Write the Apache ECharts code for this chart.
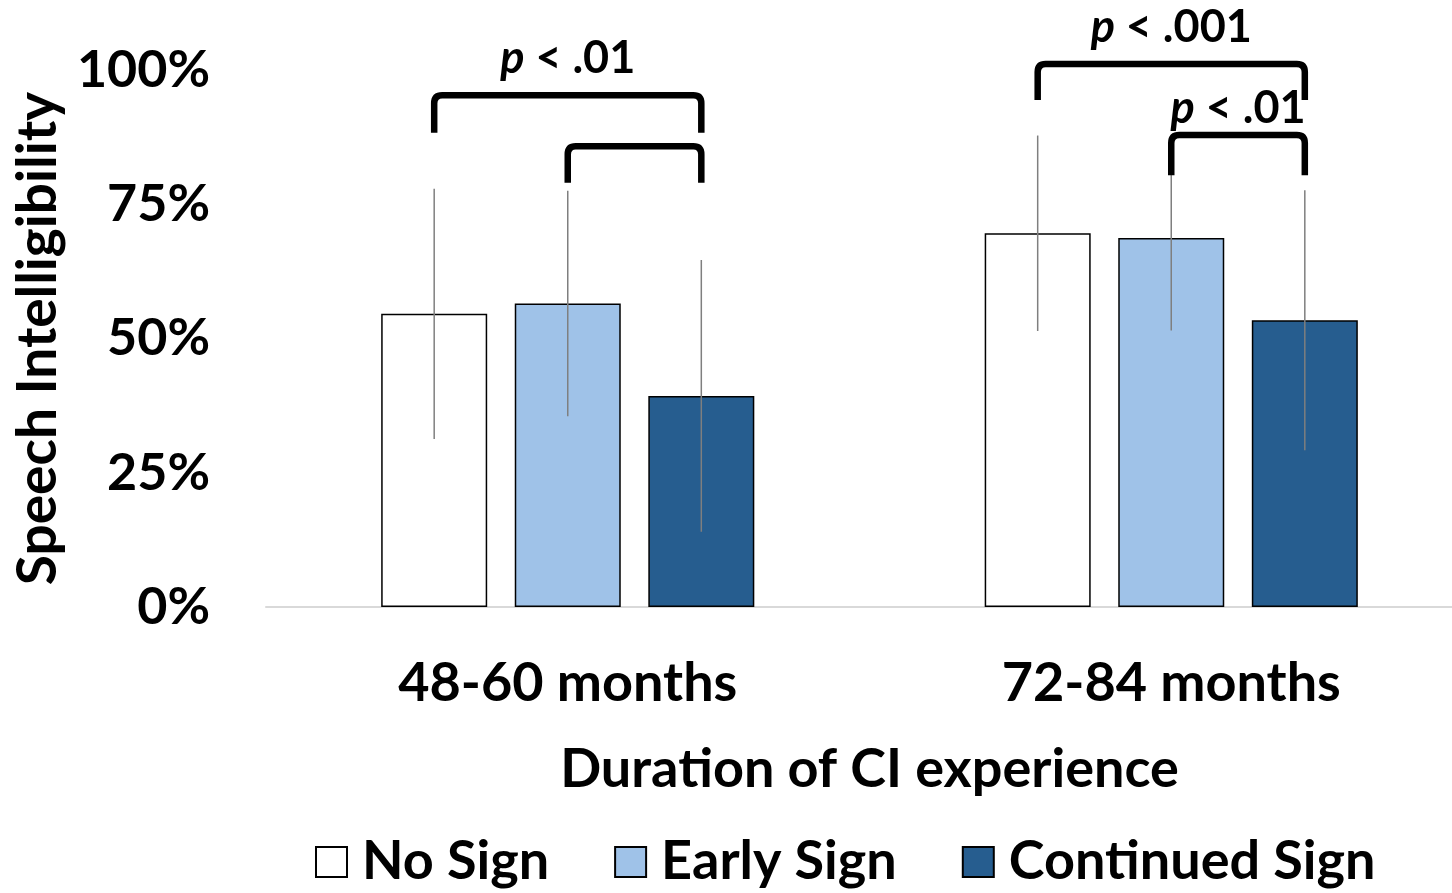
<!DOCTYPE html>
<html>
<head>
<meta charset="utf-8">
<script src="https://cdn.jsdelivr.net/npm/echarts@6/dist/echarts.min.js"></script>
<style>
html,body{margin:0;padding:0;background:#fff;}
#chart{width:1452px;height:893px;}
</style>
</head>
<body>
<div id="chart"></div>
<script>
// ---- data ----
var categories = ['48-60 months', '72-84 months'];
var seriesNames = ['No Sign', 'Early Sign', 'Continued Sign'];
var noSign = [54.6, 69.6];
var earlySign = [56.5, 68.7];
var continuedSign = [39.3, 53.4];
var noSignErr = [23.3, 18.2];
var earlySignErr = [21.0, 17.2];
var continuedSignErr = [25.3, 24.2];
var yTicks = [0, 25, 50, 75, 100];
// brackets: [categoryIndex, fromSeries, toSeries, barTopValue, armEndValue, label]
var brackets = [
  [0, 0, 2, 95.3, 88.3, '.01'],
  [0, 1, 2, 85.8, 79.0, ''],
  [1, 0, 2, 101.1, 94.4, '.001'],
  [1, 1, 2, 87.9, 80.4, '.01']
];

// styling (not data)
var FONT = 'Lato';
var BAR_W = 106;
var BAR_GAP = 0.26;
var PITCH = BAR_W * (1 + BAR_GAP);
var colors = ['#ffffff', '#9fc2e8', '#265d8f'];
var labelGaps = [14, 0, 14, 4];

var means = [noSign, earlySign, continuedSign];
var errs = [noSignErr, earlySignErr, continuedSignErr];
var errData = [];
for (var s = 0; s < 3; s++) {
  for (var c = 0; c < categories.length; c++) {
    errData.push([c, s, means[s][c] - errs[s][c], means[s][c] + errs[s][c]]);
  }
}

var chart = echarts.init(document.getElementById('chart'), null, {renderer: 'canvas'});

var barSeries = seriesNames.map(function (n, i) {
  return {
    name: n,
    type: 'bar',
    data: means[i],
    barWidth: BAR_W,
    barGap: (BAR_GAP * 100) + '%',
    itemStyle: {color: colors[i], borderColor: '#000', borderWidth: 1.5},
    emphasis: {disabled: true},
    z: 2
  };
});

function xOf(api, cat, s) {
  return api.coord([cat, 0])[0] + (s - 1) * PITCH;
}

var option = {
  animation: false,
  textStyle: {fontFamily: FONT},
  grid: {left: 266, width: 1207, top: 70, height: 537, containLabel: false, outerBoundsMode: 'none'},
  legend: {
    data: seriesNames,
    left: 315,
    top: 835,
    padding: 0,
    itemWidth: 31,
    itemHeight: 30,
    itemGap: 65,
    icon: 'rect',
    textStyle: {fontFamily: FONT, fontWeight: 'bold', fontSize: 54, color: '#000', padding: [0, 0, 0, 10]},
    selectedMode: false
  },
  xAxis: {
    type: 'category',
    data: categories,
    name: 'Duration of CI experience',
    nameLocation: 'middle',
    nameGap: 136,
    nameTextStyle: {fontFamily: FONT, fontWeight: 'bold', fontSize: 54, color: '#000'},
    axisLine: {show: true, lineStyle: {color: '#d9d9d9', width: 2}},
    axisTick: {show: false},
    axisLabel: {fontFamily: FONT, fontWeight: 'bold', fontSize: 54, color: '#000', margin: 50}
  },
  yAxis: {
    type: 'value',
    min: 0,
    max: 100,
    interval: 25,
    name: 'Speech Intelligibility',
    nameLocation: 'middle',
    nameGap: 196,
    nameRotate: 90,
    nameTextStyle: {fontFamily: FONT, fontWeight: 'bold', fontSize: 55, color: '#000'},
    axisLine: {show: false},
    axisTick: {show: false},
    splitLine: {show: false},
    axisLabel: {
      fontFamily: FONT, fontWeight: 'bold', fontSize: 52, color: '#000', margin: 56,
      formatter: function (v) { return yTicks.indexOf(v) >= 0 ? v + '%' : ''; }
    }
  },
  series: barSeries.concat([
    {
      type: 'custom',
      name: 'errors',
      data: errData,
      z: 5,
      silent: true,
      renderItem: function (params, api) {
        var cat = api.value(0), s = api.value(1);
        var x = xOf(api, cat, s);
        var y1 = api.coord([cat, api.value(2)])[1];
        var y2 = api.coord([cat, api.value(3)])[1];
        return {
          type: 'line',
          shape: {x1: x, y1: y1, x2: x, y2: y2},
          style: {stroke: '#7f7f7f', lineWidth: 1.5}
        };
      }
    },
    {
      type: 'custom',
      name: 'brackets',
      data: brackets.map(function (b) { return [b[0], b[1], b[2], b[3], b[4]]; }),
      z: 6,
      silent: true,
      renderItem: function (params, api) {
        var b = brackets[params.dataIndex];
        var cat = api.value(0);
        var xa = xOf(api, cat, api.value(1));
        var xb = xOf(api, cat, api.value(2));
        var yt = api.coord([cat, api.value(3)])[1];
        var yb = api.coord([cat, api.value(4)])[1];
        var r = 8;
        var children = [{
          type: 'path',
          shape: {
            pathData: 'M' + xa + ' ' + yb + ' L' + xa + ' ' + (yt + r) +
              ' Q' + xa + ' ' + yt + ' ' + (xa + r) + ' ' + yt +
              ' L' + (xb - r) + ' ' + yt +
              ' Q' + xb + ' ' + yt + ' ' + xb + ' ' + (yt + r) +
              ' L' + xb + ' ' + yb
          },
          style: {stroke: '#000', lineWidth: 6.5, fill: null, lineJoin: 'round', lineCap: 'butt'}
        }];
        if (b[5]) {
          children.push({
            type: 'text',
            x: (xa + xb) / 2,
            y: yt - labelGaps[params.dataIndex],
            style: {
              text: '{i|p} < ' + b[5],
              fontFamily: FONT, fontWeight: 'bold', fontSize: 45, fill: '#000',
              align: 'center', verticalAlign: 'bottom',
              rich: {i: {fontFamily: FONT, fontWeight: 'bold', fontStyle: 'italic', fontSize: 45, fill: '#000'}}
            }
          });
        }
        return {type: 'group', children: children};
      }
    }
  ])
};
chart.setOption(option);
</script>
</body>
</html>
